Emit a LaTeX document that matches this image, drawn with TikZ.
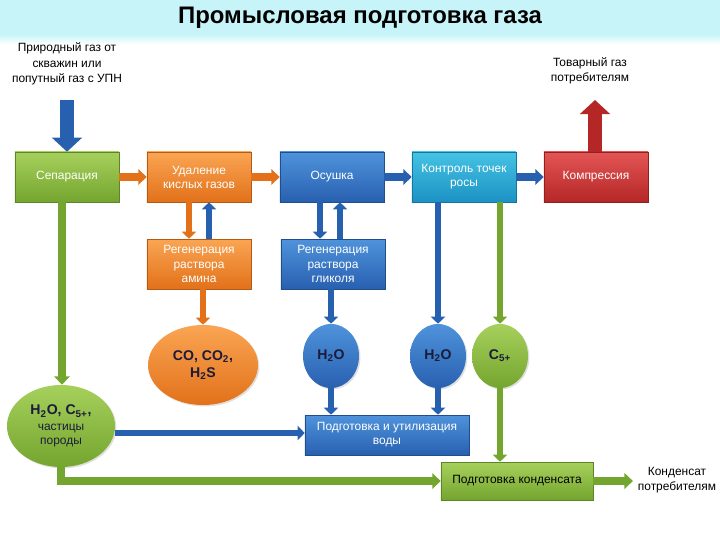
\documentclass[tikz,border=0pt]{standalone}
\usepackage{fontspec}
\setmainfont{Liberation Sans}
\usetikzlibrary{arrows.meta,calc,shadows,shapes.geometric}

\definecolor{grnT}{HTML}{A6D05C}
\definecolor{grnB}{HTML}{74A52F}
\definecolor{ornT}{HTML}{FAA553}
\definecolor{ornB}{HTML}{E2711A}
\definecolor{bluT}{HTML}{4F93DB}
\definecolor{bluB}{HTML}{2860B0}
\definecolor{cyaT}{HTML}{45C3E4}
\definecolor{cyaB}{HTML}{1C92C4}
\definecolor{redT}{HTML}{E45656}
\definecolor{redB}{HTML}{B52727}
\definecolor{band}{HTML}{C6F4F8}
\definecolor{ink}{HTML}{1B1B3A}

\begin{document}
\begin{tikzpicture}[x=0.025cm,y=-0.025cm,
  box/.style={rectangle, minimum width=2.6cm, minimum height=1.25cm, align=center,
    text=white, font=\fontsize{8.5}{10}\selectfont,
    drop shadow={opacity=0.25,shadow xshift=1pt,shadow yshift=-1pt}},
  gbox/.style={box, top color=grnT, bottom color=grnB, draw=grnB!80!black},
  obox/.style={box, top color=ornT, bottom color=ornB, draw=ornB!80!black},
  bbox/.style={box, top color=bluT, bottom color=bluB, draw=bluB!80!black},
  cbox/.style={box, top color=cyaT, bottom color=cyaB, draw=cyaB!80!black},
  rbox/.style={box, top color=redT, bottom color=redB, draw=redB!80!black},
  blob/.style={ellipse, inner sep=0pt, align=center, text=ink,
    font=\bfseries\fontsize{10}{12}\selectfont,
    drop shadow={opacity=0.25,shadow xshift=1pt,shadow yshift=-1pt}},
  note/.style={align=center, font=\fontsize{8.5}{11}\selectfont},
  fat/.style={line width=10pt, -{Triangle[length=10pt,width=21pt]}},
  mid/.style={line width=5pt, -{Triangle[length=6pt,width=11pt]}},
  thin/.style={line width=4pt, -{Triangle[length=5pt,width=10pt]}}]

  \useasboundingbox (0,0) rectangle (720,540);
  % title band
  \fill[band] (0,0) rectangle (720,34);
  \shade[top color=band, bottom color=white] (0,34) rectangle (720,44);
  \node[font=\bfseries\fontsize{17}{20}\selectfont] (title) at (360,18) {Промысловая подготовка газа};

  % top row
  \node[gbox] (sep) at (67,177) {Сепарация};
  \node[obox] (udal) at (199,177) {Удаление\\кислых газов};
  \node[bbox] (osush) at (332,177) {Осушка};
  \node[cbox] (kontr) at (464,177) {Контроль точек\\росы};
  \node[rbox] (kompr) at (596,177) {Компрессия};

  % regeneration
  \node[obox] (regam) at (199,264) {Регенерация\\раствора\\амина};
  \node[bbox] (reggl) at (333,264) {Регенерация\\раствора\\гликоля};

  % products
  \node[blob, top color=ornT, bottom color=ornB, minimum width=2.75cm, minimum height=2cm] (kisl) at (203,365) {CO, CO\textsubscript{2},\\H\textsubscript{2}S};
  \node[blob, top color=bluT, bottom color=bluB, minimum width=1.4cm, minimum height=1.6cm] (voda1) at (331,356) {H\textsubscript{2}O};
  \node[blob, top color=bluT, bottom color=bluB, minimum width=1.4cm, minimum height=1.6cm] (voda2) at (438,356) {H\textsubscript{2}O};
  \node[blob, top color=grnT, bottom color=grnB, minimum width=1.4cm, minimum height=1.6cm] (kond) at (500,356) {C\textsubscript{5+}};
  \node[blob, top color=grnT, bottom color=grnB, minimum width=2.7cm, minimum height=2.05cm] (prim) at (61,426) {H\textsubscript{2}O, C\textsubscript{5+},\\[-1pt]{\mdseries\fontsize{8.5}{10}\selectfont частицы}\\[-2pt]{\mdseries\fontsize{8.5}{10}\selectfont породы}};

  % bottom boxes
  \node[bbox, minimum width=4.1cm, minimum height=1cm] (utl) at (387,435) {Подготовка и утилизация\\воды};
  \node[gbox, minimum width=3.8cm, minimum height=0.95cm, text=black] (podk) at (517,481) {Подготовка конденсата};

  % texts
  \node[note] (src) at (67,64) {Природный газ от\\скважин или\\попутный газ с УПН};
  \node[note] (tov) at (590,71) {Товарный газ\\потребителям};
  \node[note] (potr) at (677,480) {Конденсат\\потребителям};
  \coordinate (vh) at (67,100);
  \coordinate (vyh) at (595,100);
  \coordinate (sv) at ($(sep.south)+(-5,0)$);
  \coordinate (pv) at (prim.south);

  % connectors
  \draw[fat, bluB] (vh) -- (sep.north);
  \draw[fat, redB] (kompr.north -| vyh) -- (vyh);
  \draw[mid, ornB] (sep) -- (udal);
  \draw[mid, ornB] (udal) -- (osush);
  \draw[mid, bluB] (osush) -- (kontr);
  \draw[mid, bluB] (kontr) -- (kompr);
  \draw[thin, ornB] ($(udal.south)+(-10,0)$) -- ($(regam.north)+(-10,0)$);
  \draw[thin, bluB] ($(regam.north)+(10,0)$) -- ($(udal.south)+(10,0)$);
  \draw[thin, bluB] ($(osush.south)+(-12,0)$) -- ($(reggl.north)+(-13,0)$);
  \draw[thin, bluB] ($(reggl.north)+(7,0)$) -- ($(osush.south)+(8,0)$);
  \draw[thin, ornB] (kisl.north |- regam.south) -- (kisl.north);
  \draw[thin, bluB] (voda1.north |- reggl.south) -- (voda1.north);
  \draw[thin, bluB] (voda2.north |- kontr.south) -- (voda2.north);
  \draw[thin, grnB] (kond.north |- kontr.south) -- (kond.north);
  \draw[thin, bluB] (voda1.south) -- (voda1.south |- utl.north);
  \draw[thin, bluB] (voda2.south) -- (voda2.south |- utl.north);
  \draw[thin, grnB] (kond.south) -- (kond.south |- podk.north);
  \draw[mid, grnB] (sv) -- (sv |- prim.north);
  \draw[thin, bluB] (prim.east |- 0,433) -- (utl.west |- 0,433);
  \draw[mid, grnB] (pv) |- (podk.west);
  \draw[mid, grnB] (podk.east) -- (podk.east -| potr.west);
\end{tikzpicture}
\end{document}
